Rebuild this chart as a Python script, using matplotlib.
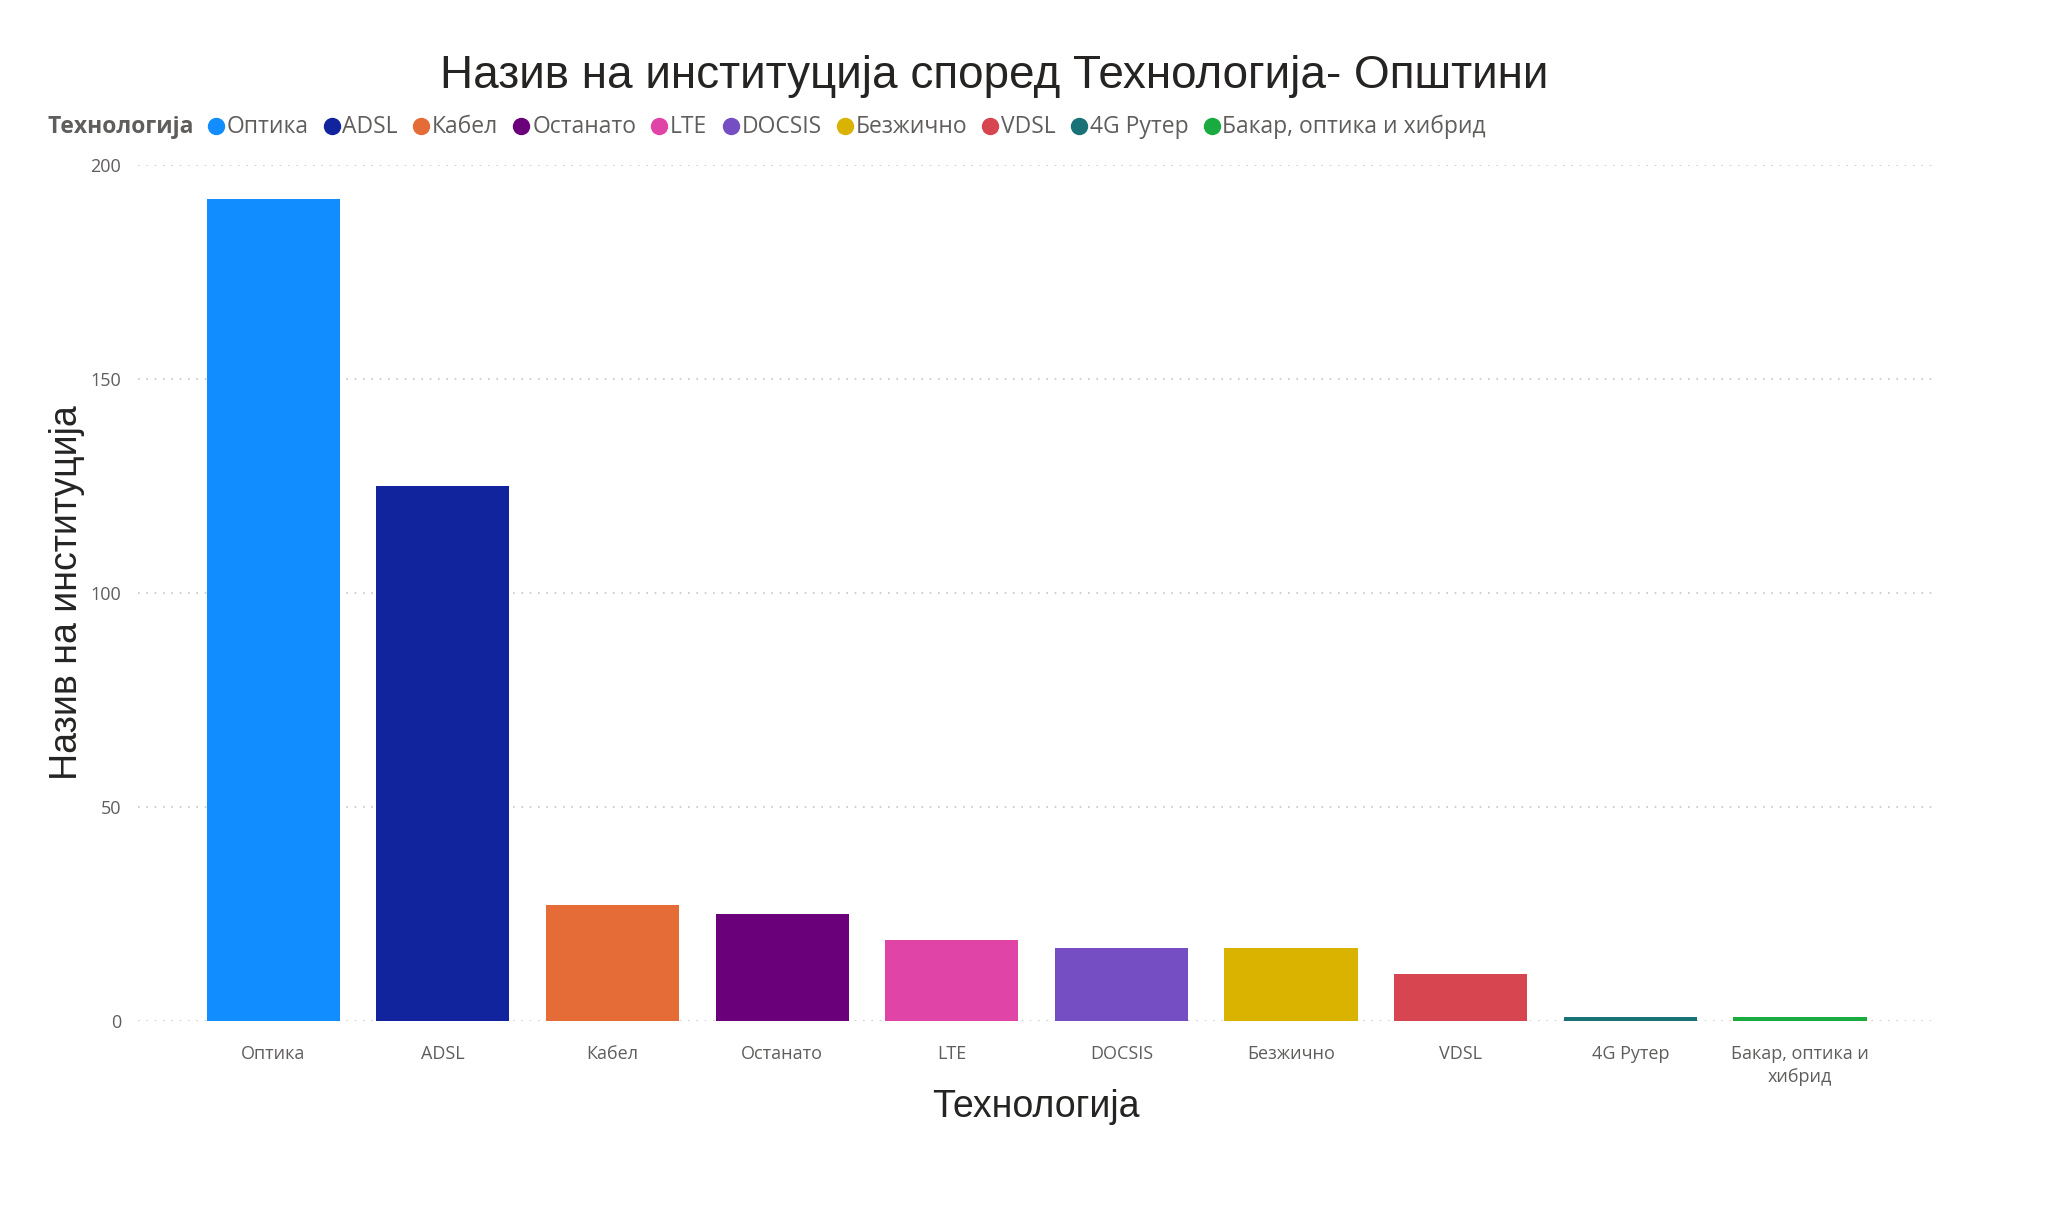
import matplotlib
matplotlib.use("Agg")
import matplotlib.pyplot as plt
from matplotlib.lines import Line2D

categories = ["Оптика", "ADSL", "Кабел", "Останато", "LTE", "DOCSIS",
              "Безжично", "VDSL", "4G Рутер", "Бакар, оптика и хибрид"]
tick_labels = ["Оптика", "ADSL", "Кабел", "Останато", "LTE", "DOCSIS",
               "Безжично", "VDSL", "4G Рутер", "Бакар, оптика и\nхибрид"]
values = [192, 125, 27, 25, 19, 17, 17, 11, 1, 1]
colors = ["#118DFF", "#12239E", "#E66C37", "#6B007B", "#E044A7", "#744EC2",
          "#D9B300", "#D64550", "#197278", "#1AAB40"]
yticks = [0, 50, 100, 150, 200]

plt.rcParams['font.family'] = ['Open Sans', 'DejaVu Sans']
big_font = ['Liberation Sans', 'DejaVu Sans']

W, H = 2048, 1215
fig = plt.figure(figsize=(W / 100, H / 100), dpi=100)
ax = fig.add_axes([138 / W, 194 / H, (1934 - 138) / W, (1021 - 165) / H])

x = list(range(len(categories)))
ax.bar(x, values, width=0.785, color=colors, zorder=3)
ax.set_xlim(-0.797, 9.79)
ax.set_ylim(0, 200)
ax.set_yticks(yticks)
ax.set_xticks(x)
ax.set_xticklabels(tick_labels, fontsize=13, color="#605E5C", linespacing=1.4)
ax.set_yticklabels([str(v) for v in yticks], fontsize=13, color="#605E5C")
ax.tick_params(axis='both', length=0)
ax.tick_params(axis='x', pad=17)
ax.tick_params(axis='y', pad=12)
ax.grid(axis='y', linestyle=(0, (1, 4)), color="#C8C6C4", linewidth=1.2, zorder=0)
for s in ax.spines.values():
    s.set_visible(False)

ax.set_xlabel("Технологија", fontsize=27, color="#252423", labelpad=2, family=big_font)
ax.set_ylabel("Назив на институција", fontsize=27, color="#252423", labelpad=4, family=big_font)

fig.text(994 / W, 1 - 76 / H, "Назив на институција според Технологија- Општини",
         fontsize=33, color="#252423", ha="center", va="center", family=big_font)

# Legend (manual, in pixel coordinates)
fig.canvas.draw()
renderer = fig.canvas.get_renderer()
ly = 1 - 127 / H
cx = 47
t = fig.text(cx / W, ly, "Технологија", fontsize=16.5, fontweight="bold",
             color="#605E5C", ha="left", va="center")
bb = t.get_window_extent(renderer)
cx += bb.width + 14
for name, col in zip(categories, colors):
    fig.add_artist(Line2D([(cx + 8) / W], [ly + 1 / H], marker='o', markersize=11.5,
                          color=col, transform=fig.transFigure, linestyle='none'))
    cx += 19
    t = fig.text(cx / W, ly, name, fontsize=16.5, color="#605E5C", ha="left", va="center")
    bb = t.get_window_extent(renderer)
    cx += bb.width + 15

fig.savefig("out.png", dpi=100, facecolor="white")
